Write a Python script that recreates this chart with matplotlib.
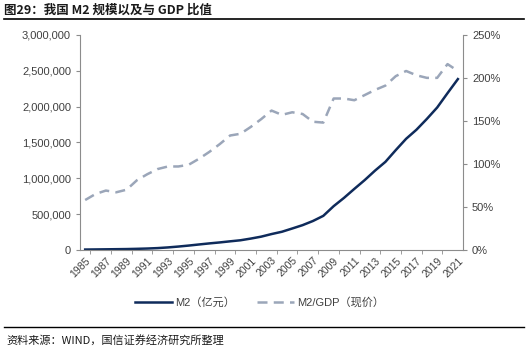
import matplotlib
matplotlib.use("Agg")
import matplotlib.pyplot as plt
from matplotlib.ticker import FuncFormatter, MultipleLocator

plt.rcParams['font.family'] = ['Liberation Sans', 'Noto Sans CJK SC', 'DejaVu Sans']

years = list(range(1985, 2022))
m2 = [5199, 6721, 8349, 10100, 11950, 15293, 19350, 25402, 34880, 46924,
      60751, 76095, 90995, 104499, 119898, 134610, 158302, 185007, 221223, 253208,
      298756, 345578, 403442, 475167, 610225, 725852, 851591, 974149, 1106525, 1228375,
      1392278, 1550067, 1676769, 1826744, 1986488, 2186796, 2382900]
m2_gdp = [0.58, 0.65, 0.69, 0.67, 0.70, 0.81, 0.88, 0.94, 0.97, 0.97,
          0.99, 1.06, 1.14, 1.23, 1.33, 1.35, 1.43, 1.52, 1.62, 1.57,
          1.60, 1.58, 1.49, 1.48, 1.76, 1.76, 1.74, 1.80, 1.86, 1.91,
          2.02, 2.08, 2.03, 2.00, 2.00, 2.16, 2.08]

navy = '#0f2b5b'
dash_c = '#9ba6b9'
txt = '#404040'
spine_c = '#8c8c8c'

fig = plt.figure(figsize=(5.28, 3.52), dpi=100)
ax = fig.add_axes([0.1515, 0.29, 0.7255, 0.611])
ax2 = ax.twinx()

x = list(range(len(years)))
l1, = ax.plot(x, m2, color=navy, lw=1.8)
l2, = ax2.plot(x, m2_gdp, color=dash_c, lw=1.8, dashes=(4, 2.5))

ax.set_xlim(-0.5, len(years) - 0.5)
ax.set_ylim(0, 3000000)
ax2.set_ylim(0, 2.5)
ax.yaxis.set_major_locator(MultipleLocator(500000))
ax.yaxis.set_major_formatter(FuncFormatter(lambda v, p: f'{int(v):,}'))
ax2.yaxis.set_major_locator(MultipleLocator(0.5))
ax2.yaxis.set_major_formatter(FuncFormatter(lambda v, p: f'{v*100:.0f}%'))

ax.set_xticks(x[::2])
ax.set_xticklabels([str(y) for y in years[::2]], rotation=45, ha='right',
                   rotation_mode='anchor', fontsize=7.5, color=txt)
ax.tick_params(axis='x', length=0, pad=4)
ax.set_xticks([i + 0.5 for i in x[::2][:-1]], minor=True)
ax.tick_params(axis='x', which='minor', length=3, color=spine_c)

for a in (ax, ax2):
    a.tick_params(axis='y', labelsize=8, colors=txt, length=3, color=spine_c)
    a.spines['top'].set_visible(False)
    for s in ('left', 'right', 'bottom'):
        a.spines[s].set_color(spine_c)
ax.spines['right'].set_visible(False)
ax2.spines['left'].set_visible(False)
ax2.spines['bottom'].set_visible(False)

fig.legend([l1, l2], ['M2（亿元）', 'M2/GDP（现价）'], loc='center',
           bbox_to_anchor=(0.492, 0.142), ncol=2, frameon=False, fontsize=8,
           handlelength=3.3, handletextpad=0.3, columnspacing=2.0, labelcolor=txt)

fig.text(0.008, 0.972, '图29：我国 M2 规模以及与 GDP 比值', fontsize=9, fontweight='bold',
         family=['Noto Sans CJK SC', 'DejaVu Sans'], va='center', color='#1a1a1a')
fig.add_artist(plt.Line2D([0.008, 0.992], [0.945, 0.945], color='black', lw=1.2))
fig.add_artist(plt.Line2D([0.008, 0.992], [0.07, 0.07], color='black', lw=1.0))
fig.text(0.012, 0.032, '资料来源：WIND，国信证券经济研究所整理', fontsize=8,
         family=['Noto Sans CJK SC', 'DejaVu Sans'], va='center', color='#1a1a1a')

fig.savefig('out.png', dpi=100)
